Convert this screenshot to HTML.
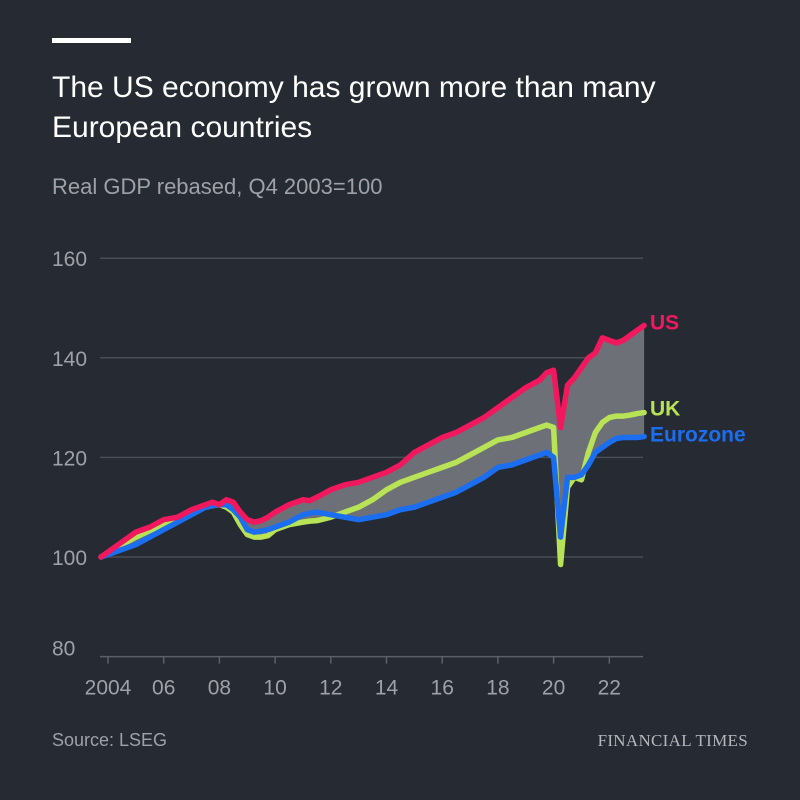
<!DOCTYPE html>
<html><head><meta charset="utf-8"><style>
body{margin:0;background:#262a33;}
#root{position:relative;width:800px;height:800px;background:#262a33;font-family:"Liberation Sans",sans-serif;overflow:hidden}
.t{position:absolute;left:52px;color:#fff;font-size:30px;line-height:40px;top:68px;width:690px}
.s{position:absolute;left:52px;top:174px;color:#9fa1a6;font-size:22px}
.src{position:absolute;left:52px;top:730px;color:#9fa1a6;font-size:18px}
.ft{position:absolute;right:52px;top:731px;color:#b4b6ba;font-family:"Liberation Serif",serif;font-size:17px;letter-spacing:0.3px}
</style></head><body>
<div id="root">
<div style="position:absolute;left:52px;top:38px;width:79px;height:5px;background:#fff"></div>
<div class="t">The US economy has grown more than many European countries</div>
<div class="s">Real GDP rebased, Q4 2003=100</div>
<svg id="chart" width="800" height="800" style="position:absolute;left:0;top:0"></svg>
<div class="src">Source: LSEG</div>
<div class="ft">FINANCIAL TIMES</div>
</div>
<script>
const times=[2003.75,2004.5,2005,2005.5,2006,2006.5,2007,2007.5,2007.75,2008,2008.25,2008.5,2008.75,2009,2009.25,2009.5,2009.75,2010,2010.5,2011,2011.25,2011.5,2012,2012.5,2013,2013.5,2014,2014.5,2015,2015.5,2016,2016.5,2017,2017.5,2018,2018.5,2019,2019.5,2019.75,2020,2020.25,2020.5,2020.75,2021,2021.25,2021.5,2021.75,2022,2022.25,2022.5,2022.75,2023,2023.25];
const us=[100,103,105,106,107.5,108,109.5,110.5,111,110.5,111.5,111,109,107.5,107,107.3,108,109,110.5,111.5,111.3,112,113.5,114.5,115,116,117,118.5,121,122.5,124,125,126.5,128,130,132,134,135.5,137,137.5,126,134.5,136,138,140,141,144,143.5,143,143.5,144.5,145.5,146.5];
const uk=[100,102.5,104,105.3,106.5,108,109,110,110.3,110.5,110,109,106.5,104.5,104,104,104.3,105.5,106.5,107,107.2,107.3,108,109,110,111.5,113.5,115,116,117,118,119,120.5,122,123.5,124,125,126,126.5,126,98.5,114,116,115.5,121,125,127,128,128.3,128.3,128.5,128.8,129];
const ez=[100,101.5,102.5,104,105.5,107,108.5,110,110.3,110.5,110.5,109.5,108,105.5,105,105.2,105.5,106,107,108.5,108.8,109,108.5,108,107.5,108,108.5,109.5,110,111,112,113,114.5,116,118,118.5,119.5,120.5,121,120,104,116,116,116.5,118.5,121,122,123,123.8,124,124,124,124.2];
const yTicks=[80,100,120,140,160];
const xTickYears=[2004,2006,2008,2010,2012,2014,2016,2018,2020,2022];
const xTickLabels=["2004","06","08","10","12","14","16","18","20","22"];
const NS="http://www.w3.org/2000/svg";
const svgEl=document.getElementById('chart');
const X=t=>108+(t-2004)*27.85;
const Y=v=>557-(v-100)*4.98;
function mk(tag,attrs){const e=document.createElementNS(NS,tag);for(const k in attrs)e.setAttribute(k,attrs[k]);svgEl.appendChild(e);return e;}
yTicks.forEach(v=>{
 const l=mk('line',{x1:100,x2:643,y1:Y(v),y2:Y(v),stroke:v===80?'#5d6068':'#4a4d55','stroke-width':1.5});
 
 
 const t=mk('text',{x:52,y:v===80?Y(v)-1:Y(v)+8,fill:'#9fa1a6','font-size':21,'font-family':'Liberation Sans, sans-serif'});
 t.textContent=v;
 
 
});
xTickYears.forEach((yr,i)=>{
 const l=mk('line',{x1:X(yr),x2:X(yr),y1:Y(80),y2:Y(80)+7,stroke:'#5d6068','stroke-width':1.5});
 
 
 const t=mk('text',{x:X(yr),y:Y(80)+38,fill:'#9fa1a6','font-size':21,'text-anchor':'middle','font-family':'Liberation Sans, sans-serif'});
 t.textContent=xTickLabels[i];
 
 
});
const upper=[],lower=[];
times.forEach((t,i)=>{upper.push(X(t)+','+Y(Math.max(us[i],uk[i],ez[i])));lower.unshift(X(t)+','+Y(Math.min(us[i],uk[i],ez[i])));});
const band=mk('polygon',{points:upper.concat(lower).join(' '),fill:'#6e7077'});


const series=[[uk,'#b9e356','uk-line'],[ez,'#1b6ef0','eurozone-line'],[us,'#f2185e','us-line']];
series.forEach(s=>{
 const d=times.map((t,i)=>(i?'L':'M')+X(t)+','+Y(s[0][i])).join('');
 const p=mk('path',{d:d,fill:'none',stroke:s[1],'stroke-width':5.5,'stroke-linejoin':'round','stroke-linecap':'round'});
 
 
});
const labs=[['US','#f2185e',us,4,'label-us'],['UK','#b9e356',uk,3,'label-uk'],['Eurozone','#1b6ef0',ez,5,'label-eurozone']];
labs.forEach(l=>{
 const t=mk('text',{x:650,y:Y(l[2][l[2].length-1])+l[3],fill:l[1],'font-size':21,'font-weight':'bold','font-family':'Liberation Sans, sans-serif'});
 t.textContent=l[0];
 
 
});
</script>
</body></html>
